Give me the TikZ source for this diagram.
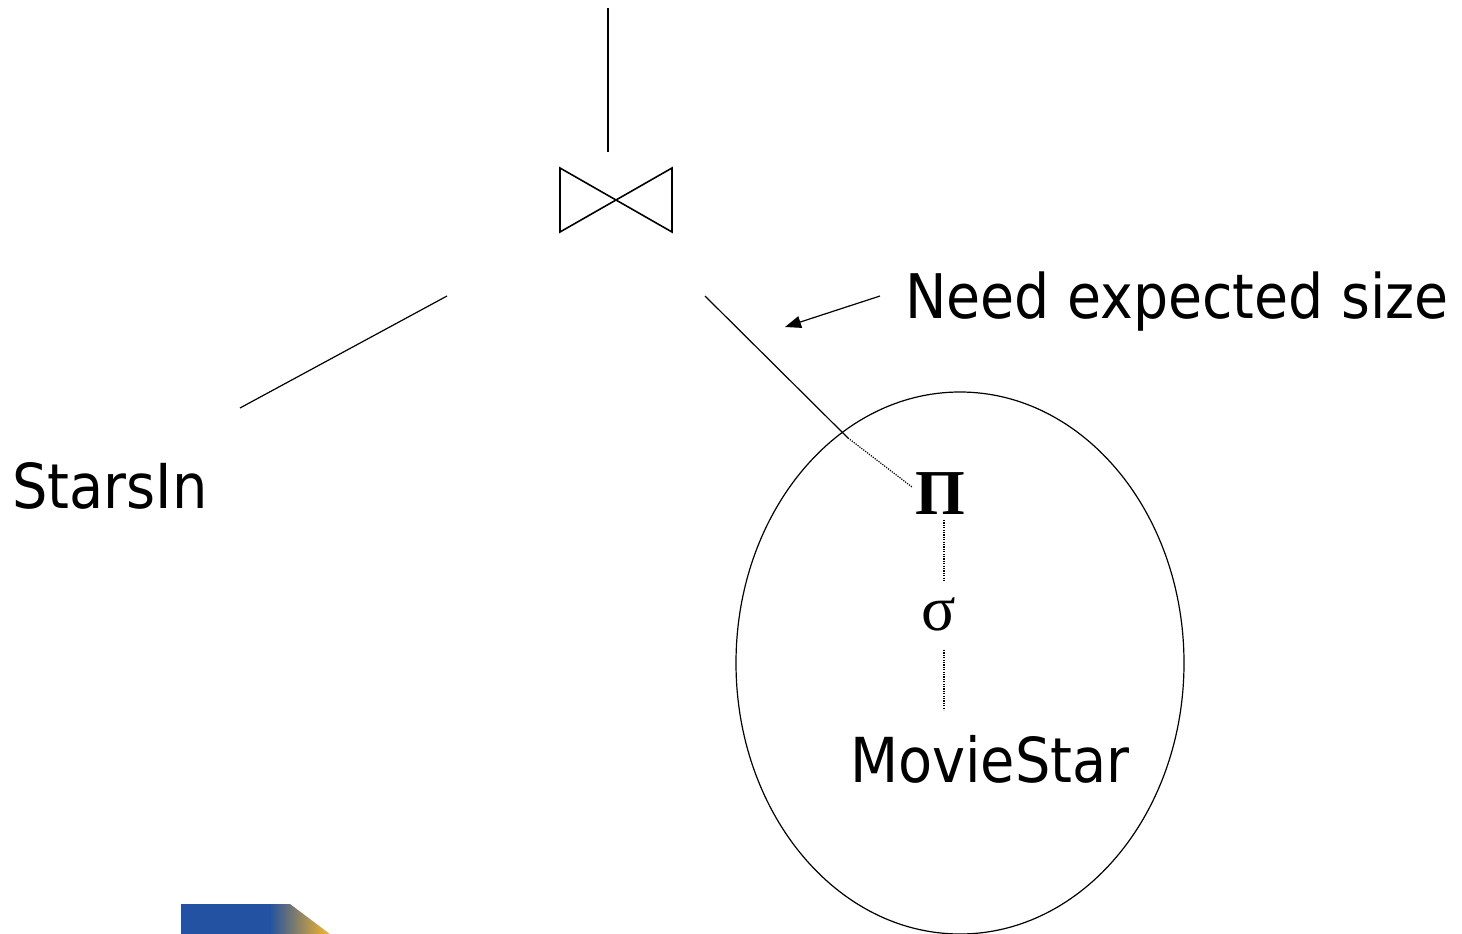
\documentclass[tikz,border=0pt]{standalone}
\usepackage{fontspec}
\setmainfont{DejaVu Sans Condensed}
\newfontfamily\greekfont{Liberation Serif}
\usetikzlibrary{arrows.meta}
\definecolor{slideblue}{RGB}{36,82,162}
\definecolor{slideorange}{RGB}{250,184,40}

\begin{document}
\begin{tikzpicture}[x=1pt,y=-1pt,
    edge/.style={line width=1.2pt},
    dotedge/.style={line width=1.2pt, dash pattern=on 1.2pt off 1.2pt},
    label/.style={font=\fontsize{62}{70}\selectfont, inner sep=0pt},
    op/.style={font=\greekfont\fontsize{64}{70}\selectfont, inner sep=0pt}]
    \useasboundingbox (0,0) rectangle (1462,934);

    % join operator
    \draw[line width=1.6pt, line join=miter] (560,168) -- (672,232) -- (672,168) -- (560,232) -- cycle;
    \coordinate (top) at (608,8);
    \coordinate (J) at (608,152);
    \coordinate (JL) at (447,296);
    \coordinate (JR) at (705,296);
    \draw[edge] (top) -- (J);

    % left branch
    \node[label, anchor=base west] (stars) at (12,508) {StarsIn};
    \coordinate (SL) at (240,408);
    \draw[edge] (JL) -- (SL);

    % right branch, the subexpression
    \node[op, anchor=base] (pi) at (940,514) {\textbf{Π}};
    \node[op, anchor=base] (sigma) at (939,630) {σ};
    \node[label, anchor=base] (movie) at (990,782) {MovieStar};
    \draw[edge] (960,663) ellipse (224 and 271);
    \coordinate (E) at (848,438);
    \draw[edge] (JR) -- (E);
    \draw[dotedge] (E) -- (912,487);
    \draw[dotedge] (944,520) -- (944,582);
    \draw[dotedge] (944,650) -- (944,710);

    % note
    \node[label, font=\fontsize{61.5}{70}\selectfont, anchor=base west] (need) at (905,318) {Need expected size};
    \coordinate (A) at (785,327);
    \draw[edge, -{Triangle[length=16pt, width=12pt]}] (880,296) -- (A);

    % slide decoration
    \fill[slideblue] (181,904) rectangle (272,934);
    \shade[left color=slideblue, right color=slideorange] (270,904) -- (290,904) -- (330,934) -- (270,934) -- cycle;
\end{tikzpicture}
\end{document}
